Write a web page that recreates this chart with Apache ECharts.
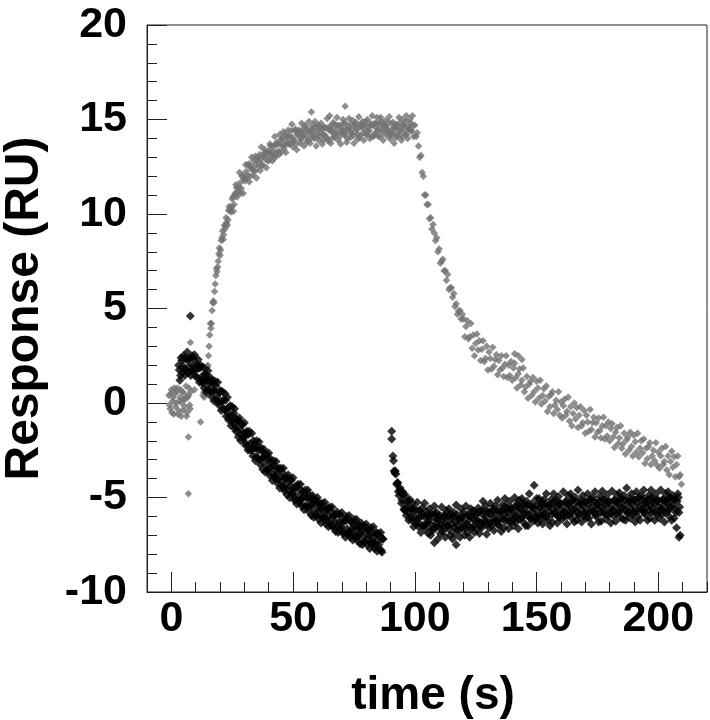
<!DOCTYPE html>
<html><head><meta charset="utf-8">
<script src="https://cdn.jsdelivr.net/npm/echarts@6/dist/echarts.min.js"></script>
<style>html,body{margin:0;padding:0;background:#fff}#c{width:710px;height:720px}</style>
</head><body><div id="c"></div>
<script>
// ---- tick labels ----
const xTickLabels = [0, 50, 100, 150, 200];
const yTickLabels = [-10, -5, 0, 5, 10, 15, 20];

// ---- gray trace ----
// baseline before injection: t = -1 .. 8, every 0.25 s
const grayBaseStart = -1, grayBaseStep = 0.25;
const grayBase = [0.4,-0.1,-0.3,0.5,0.7,-0.5,0.1,0.3,-0.6,0.8,0.5,-0.2,0.0,0.6,0.8,-0.6,-0.4,0.1,0.3,0.7,-0.7,0.0,0.6,-0.4,0.2,0.5,-0.2,0.2,0.9,-0.7,-0.5,0.3,0.4,0.8,-0.1,-0.3,0.6];
// association: t = 13 .. 99.5, every 0.5 s
const grayRiseStart = 13, grayRiseStep = 0.5;
const grayRise = [
0.4,0.3,1.0,1.9,2.0,3.0,4.2,4.2,5.3,5.3,
6.3,7.1,7.2,7.9,7.8,8.6,9.1,8.9,9.2,9.8,
9.4,10.2,10.2,10.1,
10.8,10.15,11.0,11.55,10.9,11.25,
12.2,11.1,12.0,11.1,11.9,12.6,11.9,12.6,11.7,12.45,
13.0,12.05,12.3,13.05,11.9,13.0,12.75,12.3,13.55,12.6,
13.05,13.4,12.45,13.3,12.85,13.7,13.15,12.8,13.55,14.1,
13.05,13.8,13.35,14.2,13.25,14.0,14.35,13.65,13.25,14.1,
14.45,13.7,14.0,14.75,13.55,13.9,14.5,13.4,14.25,14.45,
13.75,14.8,14.1,13.6,14.7,14.4,13.9,14.9,13.75,14.25,
14.7,14.1,14.9,13.6,14.4,13.9,14.6,14.8,13.7,14.2,
14.55,14.05,15.05,13.85,14.55,13.75,14.45,14.85,14.05,14.25,
15.1,13.9,14.7,13.7,14.4,15.0,14.2,14.8,13.8,14.5,
15.05,14.05,14.25,14.95,13.75,14.75,14.45,13.95,15.15,14.15,
14.6,14.9,13.9,14.7,14.2,15.0,14.4,14.0,14.7,15.2,
14.1,14.8,14.3,15.1,14.1,14.8,15.1,14.4,13.9,14.7,
14.95,14.15,14.45,15.15,13.95,14.25,14.85,13.75,14.55,14.75,
14.1,15.1,14.4,13.9,15.0,14.7,14.2,15.2,14.0,14.5,
15.0,14.4,15.2,14.1];
// second sampling: t = 13.25 .. 99.25, every 0.5 s
const grayRise2Start = 13.25, grayRise2Step = 0.5;
const grayRise2 = [
0.55,0.6,1.5,1.9,2.5,3.6,3.95,4.9,5.4,5.9,
6.75,6.95,7.5,8.2,8.1,8.75,8.65,9.4,9.4,9.55,
9.7,10.4,10.3,10.4,10.9,10.5,11.1,11.4,11.1,11.4,
11.65,11.35,12.05,11.85,11.75,12.25,12.05,12.65,12.0,12.5,
12.35,12.8,12.25,12.6,12.85,12.5,13.15,12.9,12.55,13.1,
13.25,12.9,13.15,12.8,13.35,13.6,13.05,13.3,12.95,13.7,
13.25,13.7,13.15,13.7,13.95,13.6,13.45,14.2,13.85,13.7,
14.15,13.7,14.4,14.05,13.85,14.4,13.7,14.2,14.35,14.05,
13.9,14.4,14.2,14.6,14.1,13.8,14.5,14.3,14.0,14.5,
14.4,14.0,14.6,14.2,14.7,14.1,14.3,14.5,13.9,14.6,
14.15,14.55,13.95,14.45,14.65,14.35,14.05,14.75,14.25,14.55,
14.7,14.3,14.1,14.6,14.4,14.8,14.2,14.5,14.0,14.6,
14.35,14.75,14.45,14.15,14.65,14.85,14.25,14.55,14.05,14.75,
14.7,14.3,14.5,14.9,14.2,14.6,14.4,14.8,14.1,14.7,
14.2,14.6,14.8,14.4,14.5,14.1,14.9,14.7,14.3,14.6,
14.65,14.35,14.85,14.15,14.45,14.75,14.25,14.55,14.05,14.65,
14.3,14.8,14.5,14.1,14.7,14.4,14.9,14.2,14.6,14.5,
14.8,14.4,14.7];
// dissociation: t = 100 .. 209, every 0.5 s
const grayDecayStart = 100, grayDecayStep = 0.5;
const grayDecay = [
14.7,14.1,14.3,13.6,13.0,13.1,12.2,12.0,11.0,11.0,
10.5,10.5,9.75,9.8,9.2,9.45,9.0,8.6,8.75,8.0,
8.15,7.4,7.5,7.6,7.0,7.0,6.5,6.8,6.0,6.1,
6.1,5.6,5.8,5.1,5.25,4.7,4.85,4.9,4.45,4.7,
4.45,3.5,4.05,4.35,3.4,3.5,4.2,2.9,3.6,2.5,
3.15,3.65,2.8,3.3,2.25,2.85,3.3,2.2,2.35,3.0,
1.75,2.7,2.35,1.8,2.95,1.95,2.3,2.55,1.5,2.25,
1.75,2.5,1.85,1.4,2.05,2.5,1.35,2.0,1.45,2.2,
1.2,1.85,2.1,1.35,0.8,1.55,1.8,0.95,1.2,1.85,
0.6,0.85,1.4,0.25,1.0,1.15,0.4,1.35,0.6,0.05,
1.15,0.8,0.25,1.2,-0.05,0.4,0.75,0.1,0.9,-0.45,
0.35,-0.2,0.45,0.6,-0.55,-0.1,0.15,-0.35,0.6,-0.65,
0.05,-0.8,-0.15,0.2,-0.65,-0.45,0.3,-0.95,-0.2,-1.2,
-0.55,0.0,-0.85,-0.25,-1.3,-0.65,-0.2,-1.2,-1.05,-0.4,
-1.6,-0.65,-1.0,-1.5,-0.35,-1.4,-1.05,-0.75,-1.8,-1.05,
-1.55,-0.8,-1.45,-1.85,-1.2,-0.75,-1.9,-1.2,-1.75,-1.0,
-2.0,-1.35,-1.1,-1.8,-2.35,-1.55,-1.3,-2.15,-1.85,-1.2,
-2.4,-2.15,-1.6,-2.7,-1.95,-1.8,-2.5,-1.55,-2.3,-2.8,
-1.7,-2.05,-2.6,-1.6,-2.85,-2.4,-2.0,-2.65,-1.9,-3.2,
-2.4,-2.95,-2.3,-2.1,-3.25,-2.8,-2.5,-3.05,-2.1,-3.3,
-2.6,-3.45,-2.8,-2.4,-3.25,-3.1,-2.3,-3.55,-2.8,-3.8,
-3.1,-2.55,-3.4,-2.85,-3.9,-3.25,-2.8,-3.9,-3.8];
// isolated gray points
const grayExtraT = [7, 7, 7.8, 9.5, 12, 57.5, 65, 71.4, 141, 142.5, 144, 209.5];
const grayExtraV = [-1.8, -4.8, 3.2, 0.7, -1.0, 15.4, 15.2, 15.7, 2.6, 2.5, 2.3, -4.3];

// ---- black trace ----
// t = 3 .. 87, every 0.5 s
const blackAStart = 3, blackAStep = 0.5;
const blackA = [
2.0,1.2,2.4,1.6,2.5,1.45,2.3,2.7,1.6,2.35,
1.45,2.5,1.7,2.55,1.4,2.05,2.3,1.1,2.0,1.2,
1.9,0.8,1.55,0.55,1.7,0.7,1.35,0.35,1.0,0.1,
1.15,0.15,1.1,-0.1,0.6,-0.4,0.6,-0.3,0.5,-0.7,
0.3,-0.9,-0.2,-1.2,-0.2,-1.1,-0.3,-1.5,-0.9,-1.8,
-0.8,-2.0,-1.1,-1.9,-1.05,-2.25,-1.5,-2.5,-1.5,-2.5,
-1.6,-2.8,-2.15,-3.05,-2.0,-2.9,-2.05,-3.25,-2.5,-3.5,
-2.45,-3.65,-2.7,-3.6,-2.65,-3.85,-3.1,-4.1,-3.05,-3.95,
-3.1,-4.25,-3.5,-4.5,-3.45,-4.4,-3.45,-4.65,-4.0,-4.85,
-3.8,-5.0,-4.05,-4.8,-3.95,-5.15,-4.4,-5.35,-4.3,-5.25,
-4.3,-5.45,-4.7,-5.65,-4.6,-5.45,-4.6,-5.75,-5.1,-5.95,
-4.9,-6.05,-5.1,-5.95,-5.0,-6.15,-5.4,-6.35,-5.3,-6.1,
-5.25,-6.4,-5.65,-6.55,-5.5,-6.45,-5.5,-6.6,-5.95,-6.8,
-5.75,-6.85,-5.9,-6.65,-5.8,-6.9,-6.15,-7.1,-6.0,-6.95,
-5.95,-7.1,-6.3,-7.25,-6.15,-7.0,-6.15,-7.3,-6.6,-7.45,
-6.35,-7.5,-6.5,-7.35,-6.4,-7.5,-6.75,-7.7,-6.6,-7.45,
-6.55,-7.7,-6.95,-7.85,-6.9,-7.75,-6.85,-7.9,-7.2];
// second sampling: t = 3.25 .. 86.75, every 0.5 s
const blackA2Start = 3.25, blackA2Step = 0.5;
const blackA2 = [
1.75,1.45,2.25,1.95,1.8,2.4,1.7,2.3,1.95,2.35,
1.7,2.0,2.35,1.7,1.95,1.35,1.85,1.85,1.35,1.05,
1.15,1.55,1.2,0.7,1.25,1.05,0.6,1.2,0.65,0.65,
0.9,0.3,0.05,0.55,0.65,0.05,0.15,-0.35,0.15,-0.45,
-0.25,-0.75,-0.15,-0.65,-0.95,-0.55,-1.35,-0.85,-1.25,-0.95,
-1.65,-1.45,-1.15,-1.8,-1.6,-2.15,-1.65,-1.65,-2.15,-2.45,
-2.45,-2.0,-2.4,-2.85,-2.35,-2.5,-3.0,-2.35,-2.95,-2.9,
-2.7,-3.25,-3.55,-3.0,-2.9,-3.45,-3.35,-3.8,-3.3,-3.85,
-3.6,-4.05,-3.45,-3.9,-4.15,-3.7,-4.5,-3.95,-4.3,-3.95,
-4.65,-4.4,-4.1,-4.75,-4.5,-5.05,-4.5,-4.45,-4.9,-5.15,
-5.1,-4.65,-5.0,-5.45,-4.9,-5.05,-5.5,-4.85,-5.4,-5.35,
-5.1,-5.65,-5.9,-5.35,-5.2,-5.75,-5.6,-6.05,-5.5,-6.0,
-5.75,-6.2,-5.55,-6.0,-6.2,-5.75,-6.5,-5.95,-6.3,-5.9,
-6.55,-6.3,-5.9,-6.55,-6.3,-6.85,-6.25,-6.2,-6.65,-6.85,
-6.8,-6.3,-6.65,-7.05,-6.5,-6.65,-7.1,-6.4,-6.95,-6.85,
-6.6,-7.1,-7.35,-6.8,-6.6,-7.15,-7.0,-7.4,-6.85,-7.35,
-7.1,-7.5,-6.85,-7.3,-7.5,-7.05,-7.8,-7.2];
// t = 91 .. 209, every 0.5 s
const blackBStart = 91, blackBStep = 0.5;
const blackB = [
-2.8,-3.6,-3.6,-4.3,-4.2,-4.9,-4.5,-5.3,-4.7,-5.65,
-4.85,-5.95,-5.25,-6.2,-5.1,-6.05,-5.3,-6.55,-5.7,-6.4,
-5.25,-6.55,-5.7,-6.85,-5.55,-6.5,-5.3,-6.65,-5.95,-6.9,
-5.6,-7.0,-5.85,-6.75,-5.45,-6.6,-5.8,-7.2,-6.1,-6.9,
-5.5,-6.8,-6.0,-7.1,-5.7,-6.5,-5.6,-7.0,-5.9,-7.2,
-5.8,-6.9,-5.4,-6.7,-6.1,-7.1,-5.6,-6.6,-5.8,-7.0,
-5.45,-6.85,-5.95,-7.1,-5.6,-6.6,-5.7,-6.85,-5.95,-6.65,
-5.55,-6.9,-5.7,-6.6,-5.2,-6.35,-5.45,-6.95,-5.75,-6.6,
-5.3,-6.5,-5.7,-6.75,-5.45,-6.25,-5.15,-6.5,-5.7,-6.8,
-5.4,-6.6,-5.05,-6.25,-5.55,-6.65,-5.2,-6.3,-5.6,-6.5,
-5.0,-6.3,-5.35,-6.65,-5.15,-6.05,-5.05,-6.3,-5.4,-6.5,
-5.2,-6.5,-4.8,-6.1,-5.5,-6.25,-4.35,-6.15,-5.05,-6.35,
-5.05,-6.15,-5.35,-6.4,-5.1,-6.0,-4.8,-6.2,-5.4,-6.5,
-5.1,-6.3,-4.8,-5.85,-5.15,-6.35,-4.95,-6.05,-5.35,-6.15,
-4.7,-6.0,-5.2,-6.4,-4.9,-5.8,-4.8,-6.1,-5.1,-6.3,
-5.0,-6.2,-4.6,-5.9,-5.3,-6.3,-4.9,-6.0,-5.2,-6.1,
-4.8,-6.1,-5.1,-6.4,-5.0,-5.8,-4.7,-6.0,-5.4,-6.3,
-4.95,-6.25,-4.65,-5.85,-5.15,-6.15,-4.85,-5.95,-5.25,-6.35,
-4.65,-5.95,-5.15,-6.25,-4.85,-5.75,-4.75,-6.05,-5.05,-6.15,
-4.9,-6.2,-4.5,-5.8,-5.2,-6.1,-4.8,-5.9,-5.1,-6.3,
-4.7,-6.0,-5.0,-6.2,-4.9,-5.7,-4.6,-5.9,-5.3,-6.2,
-4.9,-6.1,-4.6,-5.8,-5.1,-6.2,-4.8,-5.9,-5.2,-6.1,
-4.6,-5.9,-5.1,-6.3,-4.8,-5.7,-4.7,-6.0,-5.0,-6.2,
-4.9,-6.1,-5.1,-6.6,-4.8,-5.8,-7.0];
// second sampling: t = 91.25 .. 208.75, every 0.5 s
const blackB2Start = 91.25, blackB2Step = 0.5;
const blackB2 = [
-3.05,-3.7,-3.75,-4.25,-4.7,-4.6,-4.7,-5.15,-4.85,-5.6,
-5.7,-5.5,-5.15,-5.85,-5.6,-6.2,-5.6,-5.55,-6.0,-6.25,
-6.15,-5.7,-6.0,-6.45,-5.9,-6.0,-6.45,-5.75,-6.3,-6.2,
-5.95,-6.45,-6.65,-6.05,-5.85,-6.35,-6.15,-6.55,-5.95,-6.45,
-6.2,-6.6,-5.9,-6.3,-6.5,-6.0,-6.7,-6.1,-6.4,-6.0,
-6.6,-6.3,-5.9,-6.5,-6.2,-6.7,-6.1,-6.0,-6.4,-6.6,
-6.4,-5.9,-6.2,-6.6,-6.0,-6.1,-6.5,-5.8,-6.3,-6.2,
-5.8,-6.3,-6.5,-5.9,-5.7,-6.2,-6.0,-6.4,-5.8,-6.3,
-5.9,-6.3,-5.6,-6.0,-6.2,-5.7,-6.4,-5.8,-6.1,-5.7,
-6.15,-5.85,-5.45,-6.05,-5.75,-6.25,-5.65,-5.55,-5.95,-6.15,
-5.95,-5.45,-5.75,-6.15,-5.55,-5.65,-6.05,-5.35,-5.85,-5.75,
-5.4,-5.9,-6.1,-5.5,-5.3,-5.8,-5.6,-6.0,-5.4,-5.9,
-5.55,-5.95,-5.25,-5.65,-5.85,-5.35,-6.05,-5.45,-5.75,-5.35,
-5.9,-5.6,-5.2,-5.8,-5.5,-6.0,-5.4,-5.3,-5.7,-5.9,
-5.75,-5.25,-5.55,-5.95,-5.35,-5.45,-5.85,-5.15,-5.65,-5.55,
-5.25,-5.75,-5.95,-5.35,-5.15,-5.65,-5.45,-5.85,-5.25,-5.75,
-5.4,-5.8,-5.1,-5.5,-5.7,-5.2,-5.9,-5.3,-5.6,-5.2,
-5.8,-5.5,-5.1,-5.7,-5.4,-5.9,-5.3,-5.2,-5.6,-5.8,
-5.65,-5.15,-5.45,-5.85,-5.25,-5.35,-5.75,-5.05,-5.55,-5.45,
-5.15,-5.65,-5.85,-5.25,-5.05,-5.55,-5.35,-5.75,-5.15,-5.65,
-5.3,-5.7,-5.0,-5.4,-5.6,-5.1,-5.8,-5.2,-5.5,-5.1,
-5.7,-5.4,-5.0,-5.6,-5.3,-5.8,-5.2,-5.1,-5.5,-5.7,
-5.6,-5.1,-5.4,-5.8,-5.2,-5.3,-5.7,-5.0,-5.5,-5.4,
-5.1,-5.6,-5.8,-5.2,-5.0,-5.5];
// isolated black points
const blackExtraT = [7.8, 90.5, 90.5, 108, 117, 208.5];
const blackExtraV = [4.6, -1.5, -1.9, -7.4, -7.5, -7.1];

function seg(t0, dt, vals) { return vals.map((v, i) => [Math.round((t0 + i * dt) * 100) / 100, v]); }
function pairs(ts, vs) { return ts.map((t, i) => [t, vs[i]]); }

const grayData = [].concat(
  seg(grayBaseStart, grayBaseStep, grayBase),
  seg(grayRiseStart, grayRiseStep, grayRise),
  seg(grayRise2Start, grayRise2Step, grayRise2),
  seg(grayDecayStart, grayDecayStep, grayDecay),
  pairs(grayExtraT, grayExtraV));
const blackData = [].concat(
  seg(blackAStart, blackAStep, blackA),
  seg(blackA2Start, blackA2Step, blackA2),
  seg(blackBStart, blackBStep, blackB),
  seg(blackB2Start, blackB2Step, blackB2),
  pairs(blackExtraT, blackExtraV));

const FONT = 'Liberation Sans';
const chart = echarts.init(document.getElementById('c'), null, { renderer: 'canvas' });
chart.setOption({
  animation: false,
  backgroundColor: '#fff',
  grid: { left: 147, right: 3, top: 25, bottom: 128, outerBoundsMode: 'none', containLabel: false,
          show: true, borderColor: '#222', borderWidth: 1, backgroundColor: 'transparent' },
  xAxis: [
    {
      type: 'value', min: -10, max: 220, interval: 10, position: 'bottom',
      axisLine: { show: true, onZero: false, lineStyle: { color: '#222', width: 1 } },
      axisTick: { show: true, inside: true, length: 10, lineStyle: { color: '#222' } },
      axisLabel: { show: false },
      splitLine: { show: false },
      name: 'time (s)', nameLocation: 'middle', nameGap: 81,
      nameTextStyle: { fontFamily: FONT, fontWeight: 'bold', fontSize: 46, color: '#000', padding: [0, 0, 0, 12] }
    },
    {
      type: 'value', min: -10, max: 220, position: 'bottom',
      axisLine: { show: false, onZero: false },
      axisTick: { show: true, inside: true, length: 20, customValues: xTickLabels, lineStyle: { color: '#222' } },
      axisLabel: { show: true, customValues: xTickLabels, margin: 6, fontFamily: FONT, fontWeight: 'bold', fontSize: 43, color: '#000' },
      splitLine: { show: false }
    }
  ],
  yAxis: [{
    type: 'value', min: -10, max: 20, interval: 5,
    axisLine: { show: true, onZero: false, lineStyle: { color: '#222', width: 1 } },
    axisTick: { show: true, inside: true, length: 20, lineStyle: { color: '#222' } },
    minorTick: { show: true, splitNumber: 5, length: 10, lineStyle: { color: '#222' } },
    axisLabel: { margin: 20, padding: [0, 0, 6, 0], fontFamily: FONT, fontWeight: 'bold', fontSize: 43, color: '#000',
      formatter: v => (yTickLabels.indexOf(v) >= 0 ? String(v) : '') },
    splitLine: { show: false },
    name: 'Response (RU)', nameLocation: 'middle', nameGap: 98,
    nameTextStyle: { fontFamily: FONT, fontWeight: 'bold', fontSize: 48, color: '#000' }
  }],
  series: [
    { type: 'scatter', xAxisIndex: 0, data: grayData, symbol: 'diamond', symbolSize: 7.5,
      itemStyle: { color: '#727272' }, silent: true },
    { type: 'scatter', xAxisIndex: 0, data: blackData, symbol: 'diamond', symbolSize: 9,
      itemStyle: { color: '#000' }, silent: true }
  ]
});
</script></body></html>
